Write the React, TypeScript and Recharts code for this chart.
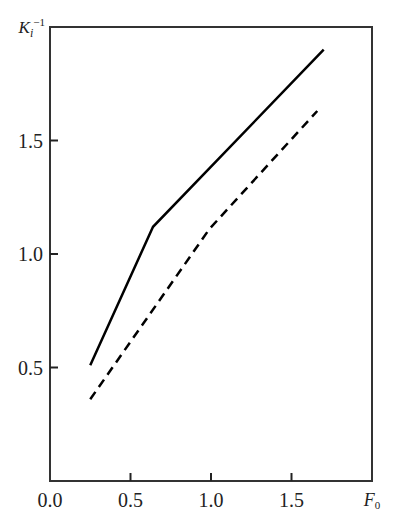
import { LineChart, Line, XAxis, YAxis, ReferenceArea } from 'recharts';

// F0 values and Ki^-1 readings for each curve
const solidF0 = [0.25, 0.64, 1.7];
const solidK = [0.51, 1.12, 1.9];
const dashedF0 = [0.25, 0.99, 1.66];
const dashedK = [0.36, 1.11, 1.63];

const xTicks = [0, 0.5, 1, 1.5, 2];
const yTicks = [0, 0.5, 1, 1.5, 2];

const solidData = solidF0.map((x, i) => ({ x, k: solidK[i] }));
const dashedData = dashedF0.map((x, i) => ({ x, k: dashedK[i] }));

const FONT = "'Liberation Serif', 'DejaVu Serif', serif";
const INK = '#222';

function XTick({ x, y, payload }: any) {
  const v = payload.value;
  if (v === 2) {
    return (
      <text x={x} y={y + 25} textAnchor="middle" style={{ fontFamily: FONT }} fill={INK}>
        <tspan fontSize={18} fontStyle="italic">F</tspan>
        <tspan fontSize={11} dy={3}>0</tspan>
      </text>
    );
  }
  return (
    <g>
      {v > 0 && <line x1={x} y1={y} x2={x} y2={y - 8} stroke={INK} strokeWidth={2} />}
      <text x={x} y={y + 26} textAnchor="middle" style={{ fontFamily: FONT, fontSize: 20 }} fill={INK}>
        {v.toFixed(1)}
      </text>
    </g>
  );
}

function YTick({ x, y, payload }: any) {
  const v = payload.value;
  if (v === 0) return null;
  if (v === 2) {
    return (
      <text x={x - 5} y={y + 6} textAnchor="end" style={{ fontFamily: FONT }} fill={INK}>
        <tspan fontSize={17} fontStyle="italic">K</tspan>
        <tspan fontSize={12} fontStyle="italic" dy={4}>i</tspan>
        <tspan fontSize={11} dy={-11}>−1</tspan>
      </text>
    );
  }
  return (
    <g>
      <line x1={x} y1={y} x2={x + 8} y2={y} stroke={INK} strokeWidth={2} />
      <text x={x - 7} y={y + 7} textAnchor="end" style={{ fontFamily: FONT, fontSize: 20 }} fill={INK}>
        {v.toFixed(1)}
      </text>
    </g>
  );
}

export default function App() {
  return (
    <LineChart
      width={392}
      height={517}
      margin={{ top: 19, right: 28, left: 0, bottom: 0 }}
      style={{ background: '#fff' }}
    >
      <XAxis
        type="number"
        dataKey="x"
        domain={[0, 2]}
        ticks={xTicks}
        allowDuplicatedCategory={false}
        axisLine={false}
        tickLine={false}
        tickSize={0}
        tickMargin={0}
        height={44}
        tick={<XTick />}
        interval={0}
      />
      <YAxis
        type="number"
        domain={[0, 2]}
        ticks={yTicks}
        axisLine={false}
        tickLine={false}
        tickSize={0}
        tickMargin={0}
        width={42}
        tick={<YTick />}
        interval={0}
      />
      <ReferenceArea x1={0} x2={2} y1={0} y2={2} stroke="#333" strokeWidth={2} fill="none" fillOpacity={0} />
      <Line
        data={solidData}
        dataKey="k"
        stroke="#000"
        strokeWidth={2.5}
        dot={false}
        isAnimationActive={false}
      />
      <Line
        data={dashedData}
        dataKey="k"
        stroke="#000"
        strokeWidth={2.5}
        strokeDasharray="9 6"
        dot={false}
        isAnimationActive={false}
      />
    </LineChart>
  );
}
